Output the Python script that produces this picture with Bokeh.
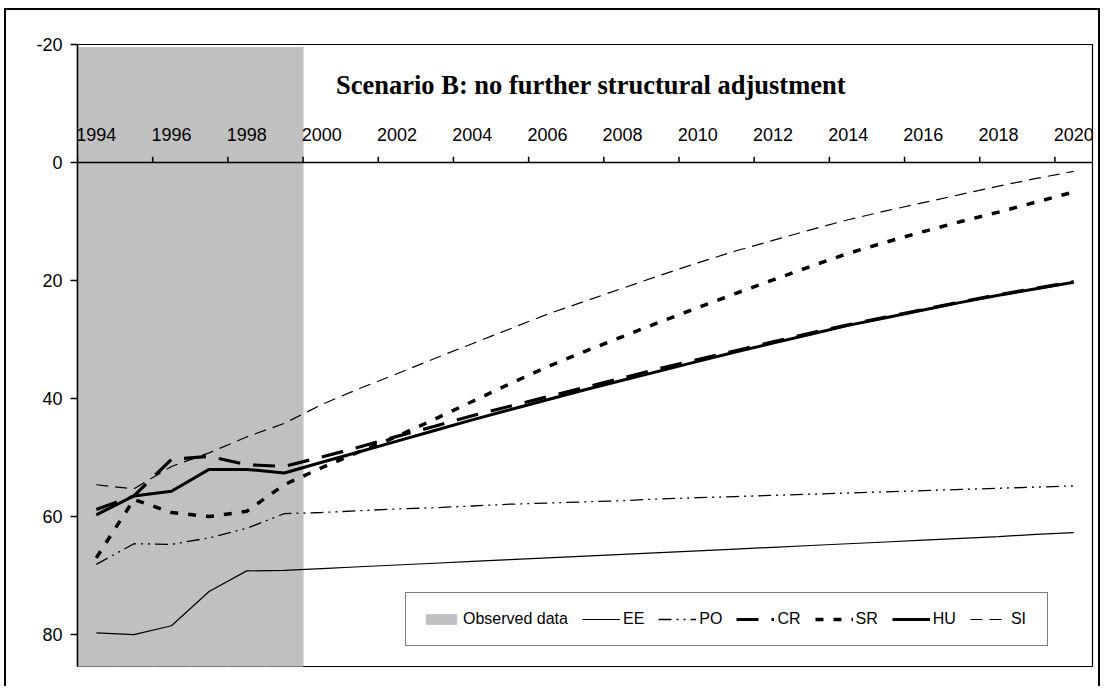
from bokeh.plotting import figure
from bokeh.models import Range1d, LinearAxis, FixedTicker, Legend, LegendItem, ColumnDataSource
from bokeh.core.properties import value
from bokeh.embed import file_html
from bokeh.resources import INLINE

# ---------------- data ----------------
years = list(range(1994, 2021))
observed_years = [1994, 1995, 1996, 1997, 1998, 1999]
tick_years = list(range(1994, 2021, 2))
tick_labels = [str(y) for y in tick_years]
y_ticks = [-20, 0, 20, 40, 60, 80]
y_tick_labels = ["-20", "0", "20", "40", "60", "80"]
title_text = "Scenario B: no further structural adjustment"

EE = [79.7, 80.0, 78.5, 72.7, 69.2, 69.1,
      68.8, 68.5, 68.2, 67.9, 67.6, 67.3, 67.0, 66.7, 66.4, 66.1, 65.8,
      65.5, 65.2, 64.9, 64.6, 64.3, 64.0, 63.7, 63.4, 63.0, 62.7]
PO = [68.1, 64.6, 64.7, 63.6, 62.0, 59.5,
      59.3, 59.0, 58.7, 58.5, 58.2, 57.9, 57.7, 57.5, 57.3, 57.0, 56.8,
      56.6, 56.4, 56.2, 56.0, 55.8, 55.6, 55.4, 55.2, 55.0, 54.8]
CR = [58.8, 56.5, 50.3, 49.8, 51.2, 51.5,
      49.9, 48.2, 46.4, 44.7, 42.9, 41.3, 39.7, 38.1, 36.5, 34.9, 33.4,
      31.9, 30.4, 28.9, 27.5, 26.2, 24.9, 23.6, 22.4, 21.3, 20.2]
SR = [67.0, 57.1, 59.3, 60.0, 59.1, 54.6,
      51.7, 49.0, 46.4, 43.5, 40.5, 37.5, 34.6, 32.0, 29.5, 27.0, 24.6,
      22.2, 19.9, 17.6, 15.4, 13.5, 11.7, 10.0, 8.4, 6.7, 5.0]
HU = [59.7, 56.5, 55.7, 52.0, 52.0, 52.6,
      50.8, 49.0, 47.2, 45.4, 43.6, 41.9, 40.2, 38.5, 36.9, 35.3, 33.7,
      32.1, 30.6, 29.1, 27.6, 26.3, 25.0, 23.7, 22.5, 21.4, 20.3]
SI = [54.6, 55.3, 51.5, 49.2, 46.5, 44.2,
      41.0, 38.3, 35.8, 33.2, 30.7, 28.2, 25.7, 23.5, 21.3, 19.1, 17.0,
      15.0, 13.2, 11.4, 9.7, 8.2, 6.8, 5.4, 4.0, 2.7, 1.5]

Y_TOP, Y_BOTTOM = -20, 85.4

# category centres (each year occupies one unit, centred at year + 0.5)
xc = [y + 0.5 for y in years]
obs_xc = [y + 0.5 for y in observed_years]

p = figure(width=1096, height=678, output_backend="svg", toolbar_location=None,
           x_range=Range1d(1994, 2021), y_range=Range1d(Y_BOTTOM, Y_TOP),
           x_axis_location=None, y_axis_location="left",
           min_border_left=71, min_border_right=10, min_border_top=34, min_border_bottom=22)
p.styles = {"border-top": "2px solid black", "border-left": "2px solid black",
            "border-right": "2px solid black", "margin-left": "4px", "margin-top": "8px"}
p.xgrid.visible = False
p.ygrid.visible = False
p.outline_line_color = "black"
p.outline_line_width = 1.2
p.background_fill_color = "white"
p.border_fill_color = "white"

# observed data shading (column series)
obs_src = ColumnDataSource(dict(x=obs_xc, top=[Y_TOP + 0.5] * len(obs_xc),
                                bottom=[Y_BOTTOM] * len(obs_xc)))
bar = p.vbar(x="x", top="top", bottom="bottom", width=1.0, source=obs_src,
             fill_color="#c0c0c0", line_color="#c0c0c0", line_width=1)

src = ColumnDataSource(dict(x=xc, EE=EE, PO=PO, CR=CR, SR=SR, HU=HU, SI=SI))
r_ee = p.line("x", "EE", source=src, line_color="black", line_width=1.2)
r_po = p.line("x", "PO", source=src, line_color="black", line_width=1.3, line_dash="13 5 2 5 2 5")
r_si = p.line("x", "SI", source=src, line_color="black", line_width=1.2, line_dash="12 7")
r_sr = p.line("x", "SR", source=src, line_color="black", line_width=3.5, line_dash="8 10")
r_cr = p.line("x", "CR", source=src, line_color="black", line_width=3.2, line_dash="22 13")
r_hu = p.line("x", "HU", source=src, line_color="black", line_width=3)

# title inside plot area
p.text(x=[2007.66], y=[-13.2], text=[title_text], text_font=value("Liberation Serif"),
       text_font_style="bold", text_font_size="26.5px", text_align="center",
       text_baseline="middle", text_color="black")

# y axis
ya = p.yaxis[0]
ya.ticker = FixedTicker(ticks=y_ticks)
ya.major_label_overrides = {t: lab for t, lab in zip(y_ticks, y_tick_labels)}
ya.major_label_text_font = "Liberation Sans"
ya.major_label_text_font_size = "18px"
ya.major_label_text_color = "black"
ya.major_tick_out = 7
ya.major_tick_in = 0
ya.minor_tick_line_color = None
ya.major_label_standoff = 8
ya.axis_line_width = 1.5
ya.major_tick_line_width = 1.5
ya.axis_line_color = "black"
ya.major_tick_line_color = "black"

# x axis crossing at 0, labels centred on categories
xa = LinearAxis(fixed_location=0, ticker=FixedTicker(ticks=[t + 0.5 for t in tick_years]),
                major_label_overrides={t + 0.5: lab for t, lab in zip(tick_years, tick_labels)},
                major_tick_line_color=None, minor_tick_line_color=None,
                axis_line_color="black", axis_line_width=1.5,
                major_tick_out=0, major_tick_in=0,
                major_label_standoff=22, major_label_text_font="Liberation Sans",
                major_label_text_font_size="18px", major_label_text_color="black")
p.add_layout(xa, "above")
# tick marks at category boundaries, pointing up from the zero line
p.segment(x0=tick_years, y0=[0] * len(tick_years), x1=tick_years, y1=[-1.0] * len(tick_years),
          line_color="black", line_width=1.5)

legend = Legend(items=[
    LegendItem(label="Observed data", renderers=[bar]),
    LegendItem(label="EE", renderers=[r_ee]),
    LegendItem(label="PO", renderers=[r_po]),
    LegendItem(label="CR", renderers=[r_cr]),
    LegendItem(label="SR", renderers=[r_sr]),
    LegendItem(label="HU", renderers=[r_hu]),
    LegendItem(label="SI", renderers=[r_si]),
], orientation="horizontal", location=(328, 20))
legend.label_text_font = "Liberation Sans"
legend.label_text_font_size = "16px"
legend.label_text_color = "black"
legend.glyph_width = 38
legend.glyph_height = 12
legend.label_height = 20
legend.label_standoff = 3
legend.spacing = 14
legend.padding = 16
legend.margin = 0
legend.border_line_color = "black"
legend.border_line_width = 1.2
legend.background_fill_color = "white"
legend.background_fill_alpha = 1
p.add_layout(legend, "center")

open("out.html", "w").write(file_html(p, INLINE))
